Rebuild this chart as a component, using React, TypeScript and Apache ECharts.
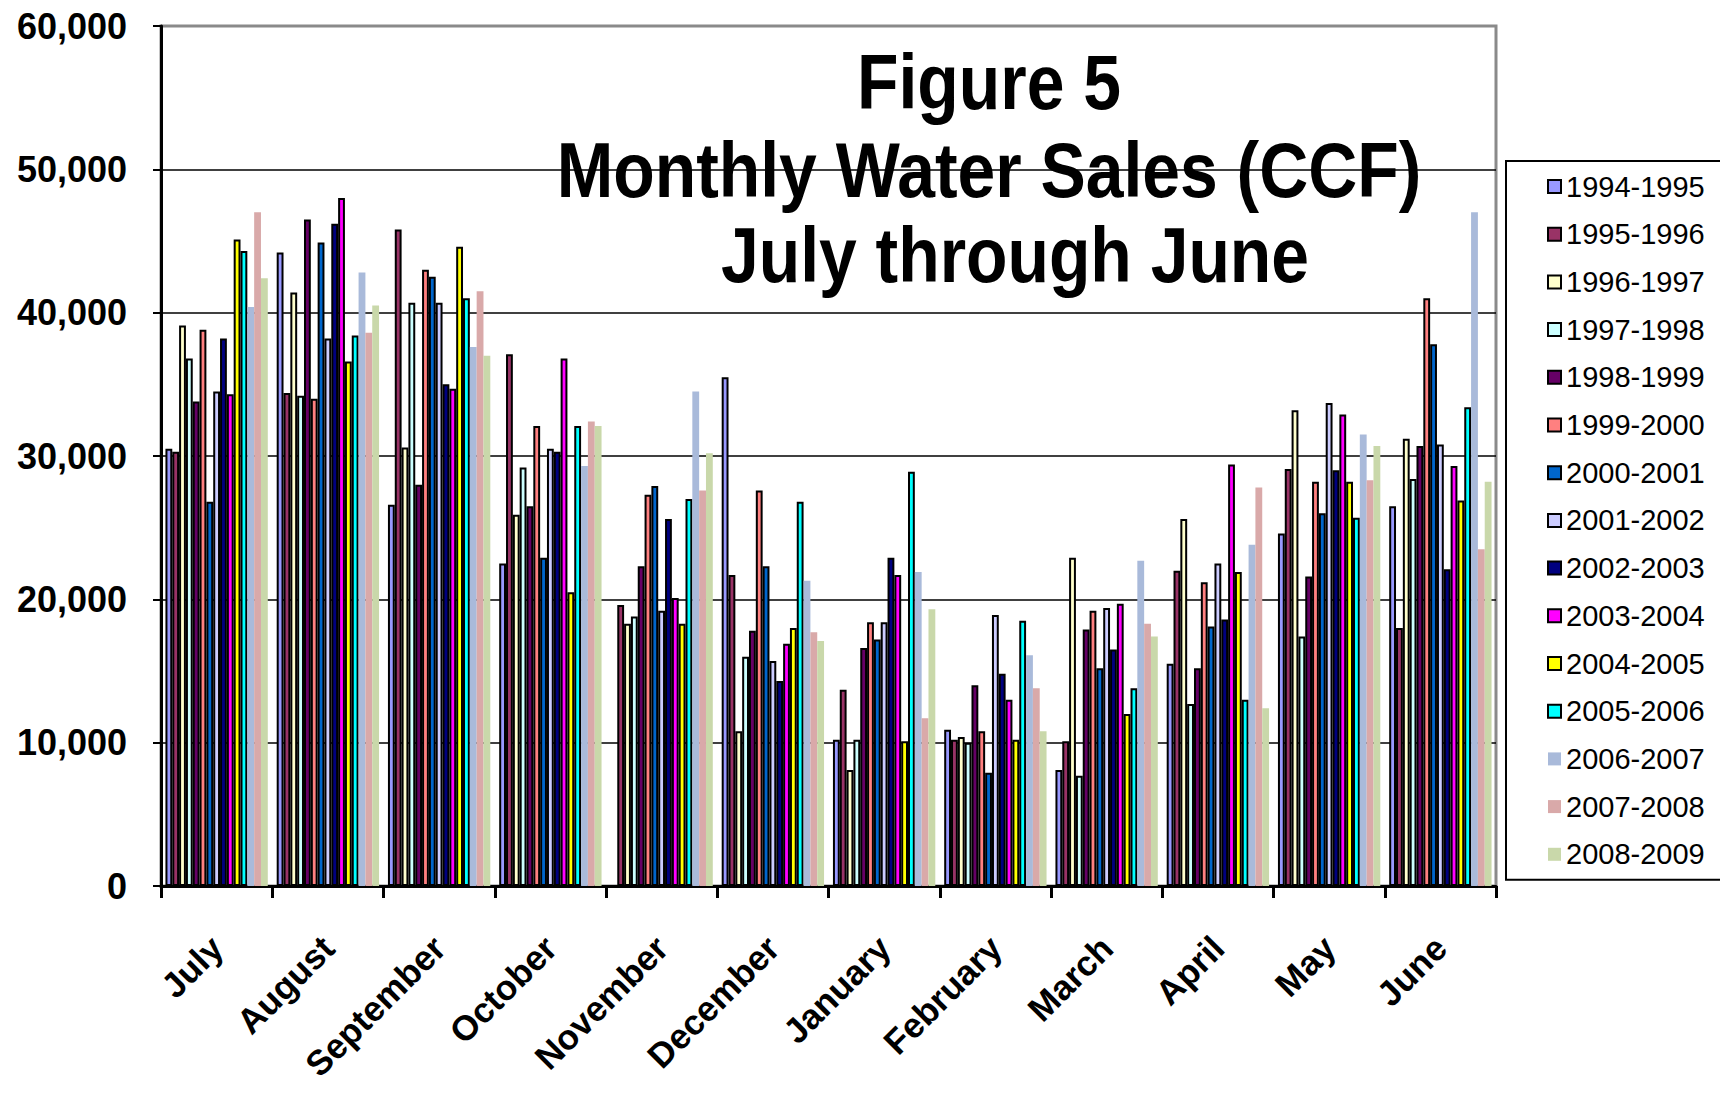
import React, { useEffect, useRef } from "react";
import * as echarts from "echarts";

const months = ["July", "August", "September", "October", "November", "December", "January", "February", "March", "April", "May", "June"];
const seasons = ["1994-1995", "1995-1996", "1996-1997", "1997-1998", "1998-1999", "1999-2000", "2000-2001", "2001-2002", "2002-2003", "2003-2004", "2004-2005", "2005-2006", "2006-2007", "2007-2008", "2008-2009"];
const yTicks = [0, 10000, 20000, 30000, 40000, 50000, 60000];

const s1994 = [30500, 44200, 26600, 22500, null, 35500, 10200, 10900, 8100, 15500, 24600, 26500];
const s1995 = [30300, 34400, 45800, 37100, 19600, 21700, 13700, 10200, 10100, 22000, 29100, 18000];
const s1996 = [39100, 41400, 30600, 25900, 18300, 10800, 8100, 10400, 22900, 25600, 33200, 31200];
const s1997 = [36800, 34200, 40700, 29200, 18800, 16000, 10200, 10000, 7700, 12700, 17400, 28400];
const s1998 = [33800, 46500, 28000, 26500, 22300, 17800, 16600, 14000, 17900, 15200, 21600, 30700];
const s1999 = [38800, 34000, 43000, 32100, 27300, 27600, 18400, 10800, 19200, 21200, 28200, 41000];
const s2000 = [26800, 44900, 42500, 22900, 27900, 22300, 17200, 7900, 15200, 18100, 26000, 37800];
const s2001 = [34500, 38200, 40700, 30500, 19200, 15700, 18400, 18900, 19400, 22500, 33700, 30800];
const s2002 = [38200, 46200, 35000, 30300, 25600, 14300, 22900, 14800, 16500, 18600, 29000, 22100];
const s2003 = [34300, 48000, 34700, 36800, 20100, 16900, 21700, 13000, 19700, 29400, 32900, 29300];
const s2004 = [45100, 36600, 44600, 20500, 18300, 18000, 10100, 10200, 12000, 21900, 28200, 26900];
const s2005 = [44300, 38400, 41000, 32100, 27000, 26800, 28900, 18500, 13800, 13000, 25700, 33400];
const s2006 = [40400, 42800, 37600, 29300, 34500, 21300, 21900, 16100, 22700, 23800, 31500, 47000];
const s2007 = [47000, 38600, 41500, 32400, 27600, 17700, 11700, 13800, 18300, 27800, 28300, 23500];
const s2008 = [42400, 40500, 37000, 32100, 30200, 17100, 19300, 10800, 17400, 12400, 30700, 28200];

const seriesValues = [s1994, s1995, s1996, s1997, s1998, s1999, s2000, s2001, s2002, s2003, s2004, s2005, s2006, s2007, s2008];
const colors = ["#9999FF", "#993366", "#FFFFCC", "#CCFFFF", "#660066", "#FF8080", "#0066CC", "#CCCCFF", "#000080", "#FF00FF", "#FFFF00", "#00FFFF", "#A9BADA", "#D9A9A9", "#C9D8AA"];
const bordered = [true, true, true, true, true, true, true, true, true, true, true, true, false, false, false];
const titleLines = ["Figure 5", "Monthly Water Sales (CCF)", "July through June"];

const FONT = "'Liberation Sans', Arial, sans-serif";

export default function App() {
  const ref = useRef<HTMLDivElement>(null);
  useEffect(() => {
    if (!ref.current) return;
    const chart = echarts.init(ref.current, undefined, { renderer: "svg" });
    const titleY = [82, 170, 255];
    const titleX = [989, 989, 1015];
    chart.setOption({
      animation: false,
      backgroundColor: "#ffffff",
      grid: {
        left: 161,
        right: 224,
        top: 26,
        bottom: 207,
        show: true,
        borderColor: "#8a8a8a",
        borderWidth: 3,
        backgroundColor: "#ffffff",
      },
      legend: {
        orient: "vertical",
        left: 1506,
        top: 161,
        padding: [11, 80, 11, 41],
        itemWidth: 13,
        itemHeight: 13,
        itemGap: 18.7,
        icon: "rect",
        borderColor: "#000",
        borderWidth: 2,
        backgroundColor: "#fff",
        textStyle: { fontFamily: FONT, fontSize: 29, color: "#000", lineHeight: 28 },
        data: seasons,
      },
      xAxis: {
        type: "category",
        data: months,
        axisLine: { lineStyle: { color: "#000", width: 3 } },
        axisTick: { show: true, alignWithLabel: false, length: 12, lineStyle: { color: "#000", width: 3 } },
        axisLabel: {
          rotate: 45,
          margin: 56,
          interval: 0,
          fontFamily: FONT,
          fontWeight: "bold",
          fontSize: 35,
          color: "#000",
        },
      },
      yAxis: {
        type: "value",
        min: yTicks[0],
        max: yTicks[yTicks.length - 1],
        interval: 10000,
        axisLine: { show: true, lineStyle: { color: "#000", width: 3 } },
        axisTick: { show: true, length: 8, lineStyle: { color: "#000", width: 2 } },
        splitLine: { lineStyle: { color: ["#000", "#000", "#000", "#000", "#000", "#000", "#8a8a8a"], width: 1.5 } },
        axisLabel: {
          margin: 34,
          fontFamily: FONT,
          fontWeight: "bold",
          fontSize: 36,
          color: "#000",
          formatter: (v: number) => v.toLocaleString("en-US"),
        },
      },
      series: seasons.map((name, i) => ({
        name,
        type: "bar",
        data: seriesValues[i],
        barGap: "0%",
        barCategoryGap: "8%",
        itemStyle: {
          color: colors[i],
          borderColor: bordered[i] ? "#000" : colors[i],
          borderWidth: bordered[i] ? 2 : 0,
        },
      })),
      graphic: titleLines.map((t, i) => ({
        type: "text",
        x: titleX[i],
        y: titleY[i],
        scaleX: 0.87,
        z: 100,
        style: {
          text: t,
          font: `bold 78px ${FONT}`,
          fill: "#000",
          textAlign: "center",
          textVerticalAlign: "middle",
        },
      })),
    });
    return () => chart.dispose();
  }, []);
  return <div ref={ref} style={{ width: 1720, height: 1093, position: "absolute", left: 0, top: 0 }} />;
}
